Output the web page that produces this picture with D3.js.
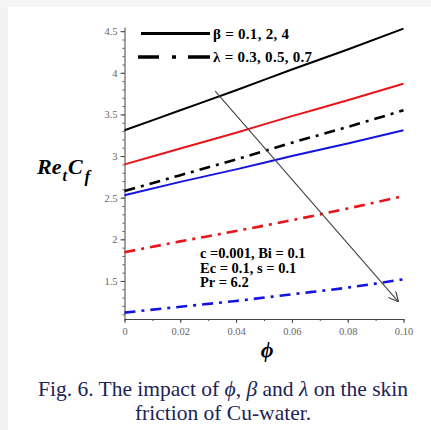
<!DOCTYPE html>
<html>
<head>
<meta charset="utf-8">
<script src="https://cdn.jsdelivr.net/npm/d3@7"></script>
<style>
  body { margin: 0; background: #fff; }
  svg { display: block; }
</style>
</head>
<body>
<svg id="chart"></svg>
<script>
// phi values along the x axis
const phi = [0, 0.02, 0.04, 0.06, 0.08, 0.10];

// beta = 0.1, 2, 4 (solid lines)
const betaBlack = [3.31, 3.55, 3.79, 4.04, 4.28, 4.53];
const betaRed = [2.90, 3.09, 3.28, 3.48, 3.67, 3.87];
const betaBlue = [2.53, 2.69, 2.84, 3.00, 3.15, 3.31];

// lambda = 0.3, 0.5, 0.7 (dash-dot lines)
const lambdaBlack = [2.58, 2.77, 2.96, 3.16, 3.35, 3.55];
const lambdaRed = [1.845, 1.975, 2.10, 2.23, 2.37, 2.52];
const lambdaBlue = [1.12, 1.19, 1.26, 1.34, 1.42, 1.52];

const xTicks = [0, 0.02, 0.04, 0.06, 0.08, 0.10];
const xTickLabels = ["0", "0.02", "0.04", "0.06", "0.08", "0.10"];
const yTicks = [1.5, 2, 2.5, 3, 3.5, 4, 4.5];

// arrow showing increasing parameter direction: [phi, value]
const arrowFrom = [0.0325, 3.78];
const arrowTo = [0.0982, 1.25];

const width = 431;
const height = 430;

const svg = d3.select("#chart").attr("width", width).attr("height", height);

// faint grey border strip on left and top like the scan
svg.append("rect").attr("x", 0).attr("y", 0).attr("width", 8).attr("height", height).attr("fill", "#f2f2f2");
svg.append("rect").attr("x", 0).attr("y", 0).attr("width", width).attr("height", 7).attr("fill", "#f5f5f5");

const xScale = d3.scaleLinear().domain([0, 0.1]).range([124.5, 403.5]);
const yScale = d3.scaleLinear().domain([1.043, 4.55]).range([319, 27]);

// minor ticks
svg.append("g")
  .attr("transform", `translate(0,${yScale.range()[0]})`)
  .call(d3.axisBottom(xScale).tickValues(d3.range(0, 0.1001, 0.01)).tickSize(2).tickFormat(""))
  .call((g) => g.select(".domain").remove())
  .selectAll("line").attr("stroke", "#555");

svg.append("g")
  .attr("transform", `translate(${xScale.range()[0]},0)`)
  .call(d3.axisLeft(yScale).tickValues(d3.range(1.1, 4.55, 0.1)).tickSize(2).tickFormat(""))
  .call((g) => g.select(".domain").remove())
  .selectAll("line").attr("stroke", "#555");

// major axes
const xAxis = svg.append("g")
  .attr("transform", `translate(0,${yScale.range()[0]})`)
  .call(d3.axisBottom(xScale).tickValues(xTicks).tickSize(4).tickSizeOuter(0)
    .tickFormat((d, i) => xTickLabels[i]));

const yAxis = svg.append("g")
  .attr("transform", `translate(${xScale.range()[0]},0)`)
  .call(d3.axisLeft(yScale).tickValues(yTicks).tickSize(4).tickSizeOuter(0)
    .tickFormat((d) => String(d)));

[xAxis, yAxis].forEach((g) => {
  g.select(".domain").attr("stroke", "#444").attr("stroke-width", 1);
  g.selectAll(".tick line").attr("stroke", "#444");
  g.selectAll(".tick text")
    .attr("fill", "#666")
    .attr("font-family", "Liberation Serif, serif")
    .attr("font-size", "10.5px");
});
xAxis.selectAll(".tick text").attr("dy", "0.85em");

// curves
const series = [
  { values: lambdaBlue, color: "#1414e0", dash: "11,6,3,6", width: 2.6 },
  { values: lambdaRed, color: "#e8141b", dash: "11,6,3,6", width: 2.6 },
  { values: lambdaBlack, color: "#000", dash: "11,6,3,6", width: 2.6 },
  { values: betaBlue, color: "#1414e0", dash: null, width: 2 },
  { values: betaRed, color: "#e8141b", dash: null, width: 2 },
  { values: betaBlack, color: "#000", dash: null, width: 2 },
];

const line = d3.line()
  .x((d, i) => xScale(phi[i]))
  .y((d) => yScale(d))
  .curve(d3.curveMonotoneX);

series.forEach((s) => {
  svg.append("path")
    .datum(s.values)
    .attr("d", line)
    .attr("fill", "none")
    .attr("stroke", s.color)
    .attr("stroke-width", s.width)
    .attr("stroke-dasharray", s.dash);
});

// arrow
const defs = svg.append("defs");
defs.append("marker")
  .attr("id", "arrowhead")
  .attr("viewBox", "0 0 10 10")
  .attr("refX", 10)
  .attr("refY", 5)
  .attr("markerWidth", 10)
  .attr("markerHeight", 10)
  .attr("markerUnits", "userSpaceOnUse")
  .attr("orient", "auto")
  .append("path")
  .attr("d", "M0,0 L10,5 L0,10")
  .attr("fill", "none")
  .attr("stroke", "#444")
  .attr("stroke-width", 1.2);

svg.append("line")
  .attr("x1", xScale(arrowFrom[0]))
  .attr("y1", yScale(arrowFrom[1]))
  .attr("x2", xScale(arrowTo[0]))
  .attr("y2", yScale(arrowTo[1]))
  .attr("stroke", "#444")
  .attr("stroke-width", 1.1)
  .attr("marker-end", "url(#arrowhead)");

// legend
const legend = svg.append("g")
  .attr("font-family", "Liberation Serif, serif")
  .attr("font-weight", "bold")
  .attr("font-size", "15px");

legend.append("line")
  .attr("x1", 141).attr("x2", 210).attr("y1", 33.5).attr("y2", 33.5)
  .attr("stroke", "#000").attr("stroke-width", 3);
legend.append("text").attr("x", 213).attr("y", 38.5)
  .attr("textLength", 76).attr("lengthAdjust", "spacing").text("β = 0.1, 2, 4");

legend.append("line")
  .attr("x1", 138).attr("x2", 210).attr("y1", 57).attr("y2", 57)
  .attr("stroke", "#000").attr("stroke-width", 3.5)
  .attr("stroke-dasharray", "21,13,4,12,22");
legend.append("text").attr("x", 213).attr("y", 62)
  .attr("textLength", 99).attr("lengthAdjust", "spacing").text("λ = 0.3, 0.5, 0.7");

// parameter note
const note = svg.append("g")
  .attr("font-family", "Liberation Serif, serif")
  .attr("font-weight", "bold")
  .attr("font-size", "14.5px");
note.append("text").attr("x", 200).attr("y", 258).text("c =0.001, Bi = 0.1");
note.append("text").attr("x", 200).attr("y", 272.5).text("Ec = 0.1, s = 0.1");
note.append("text").attr("x", 200).attr("y", 287).text("Pr = 6.2");

// axis titles
const yTitle = svg.append("text")
  .attr("x", 37)
  .attr("y", 174)
  .attr("font-family", "Liberation Serif, serif")
  .attr("font-weight", "bold")
  .attr("font-style", "italic")
  .attr("font-size", "22px");
yTitle.append("tspan").text("Re");
yTitle.append("tspan").attr("font-size", "16px").attr("dy", 7).attr("dx", 1).text("t");
yTitle.append("tspan").attr("dy", -7).attr("dx", 1).text("C");
yTitle.append("tspan").attr("font-size", "17px").attr("dy", 8).attr("dx", 2).text("f");

svg.append("text")
  .attr("x", 267)
  .attr("y", 357)
  .attr("text-anchor", "middle")
  .attr("font-family", "Liberation Serif, serif")
  .attr("font-weight", "bold")
  .attr("font-style", "italic")
  .attr("font-size", "22px")
  .text("ϕ");

// caption
const caption = svg.append("g")
  .attr("font-family", "Liberation Serif, serif")
  .attr("font-size", "21.5px")
  .attr("fill", "#1c2356")
  .attr("text-anchor", "middle");

const cap1 = caption.append("text").attr("x", 223).attr("y", 396);
cap1.append("tspan").text("Fig. 6. The impact of ");
cap1.append("tspan").attr("font-style", "italic").text("ϕ");
cap1.append("tspan").text(", ");
cap1.append("tspan").attr("font-style", "italic").text("β");
cap1.append("tspan").text(" and ");
cap1.append("tspan").attr("font-style", "italic").text("λ");
cap1.append("tspan").text(" on the skin");

caption.append("text").attr("x", 223).attr("y", 420).text("friction of Cu-water.");
</script>
</body>
</html>
